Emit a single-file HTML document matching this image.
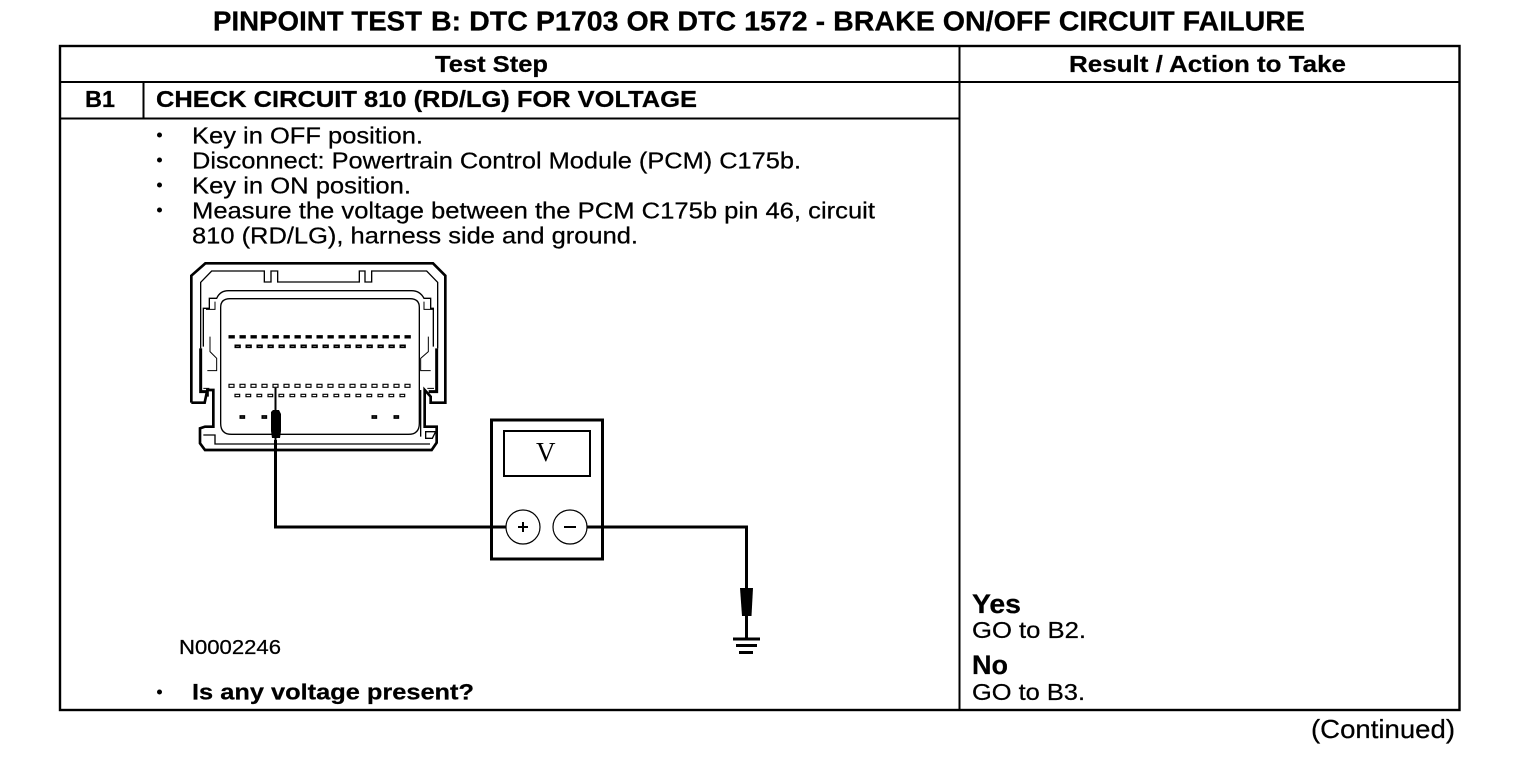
<!DOCTYPE html>
<html>
<head>
<meta charset="utf-8">
<style>
html,body{margin:0;padding:0;background:#fff;width:1520px;height:782px;overflow:hidden}
svg{display:block}
text{font-family:"Liberation Sans",Arial,sans-serif;fill:#000;stroke:#000;stroke-width:.25px}
.b{font-weight:bold}
</style>
</head>
<body>
<svg width="1520" height="782" viewBox="0 0 1520 782" xmlns="http://www.w3.org/2000/svg">
<rect width="1520" height="782" fill="#fff"/>
<text class="b" x="213" y="30.500" font-size="27.500" textLength="209" lengthAdjust="spacingAndGlyphs">PINPOINT TEST</text>
<text class="b" x="431" y="30.500" font-size="27.500" textLength="874" lengthAdjust="spacingAndGlyphs">B: DTC P1703 OR DTC 1572 - BRAKE ON/OFF CIRCUIT FAILURE</text>

<g stroke="#000" stroke-width="2" fill="none">
<rect x="60" y="46" width="1399.500" height="664" stroke-width="2.400"/>
<path d="M59 82H1460M59 118.500H959M143.500 82V118M959.500 46V710"/>
</g>

<text class="b" x="435" y="72" font-size="23.500" textLength="113" lengthAdjust="spacingAndGlyphs">Test Step</text>
<text class="b" x="1069" y="72" font-size="23.500" textLength="277" lengthAdjust="spacingAndGlyphs">Result / Action to Take</text>
<text class="b" x="85" y="107" font-size="23.500" textLength="30" lengthAdjust="spacingAndGlyphs">B1</text>
<text class="b" x="156" y="107" font-size="23.500" textLength="541" lengthAdjust="spacingAndGlyphs">CHECK CIRCUIT 810 (RD/LG) FOR VOLTAGE</text>

<g font-size="23.500">
<text x="192" y="143.500" textLength="231" lengthAdjust="spacingAndGlyphs">Key in OFF position.</text>
<text x="192" y="168.500" textLength="609" lengthAdjust="spacingAndGlyphs">Disconnect: Powertrain Control Module (PCM) C175b.</text>
<text x="192" y="193.500" textLength="219" lengthAdjust="spacingAndGlyphs">Key in ON position.</text>
<text x="192" y="218.500" textLength="683" lengthAdjust="spacingAndGlyphs">Measure the voltage between the PCM C175b pin 46, circuit</text>
<text x="192" y="243.500" textLength="446" lengthAdjust="spacingAndGlyphs">810 (RD/LG), harness side and ground.</text>
</g>
<g fill="#000">
<circle cx="159.500" cy="135" r="2.500"/>
<circle cx="159.500" cy="160" r="2.500"/>
<circle cx="159.500" cy="185" r="2.500"/>
<circle cx="159.500" cy="210" r="2.500"/>
<circle cx="159.500" cy="692" r="2.500"/>
</g>

<!-- connector -->
<g transform="translate(170 250) scale(0.33333)" fill="none" stroke="#000" stroke-linejoin="miter">
<path stroke-width="8" d="M64 458V77L106 40H789L826 77V458H782V440L764 420V530H800V578L785 600H105L90 580V535L105 530H130V420H112L104 458H64"/>
<path stroke-width="4" d="M92 295V97L125 63H283V96H303V63H323V96H568V63H585V96H605V63H770L803 97V295"/>
<path stroke-width="9" d="M92 295V425H112V440M800 295V425H776"/>
<path stroke-width="4" d="M100 290V175H118V145H140Q150 122 175 122H725Q750 122 762 145H782V175H790V290"/>
<path stroke-width="4" d="M152 172Q152 146 180 146H720Q748 146 748 172V520Q748 553 715 553H185Q152 553 152 520Z"/>
<path stroke-width="3" d="M108 178H135V155M792 178H762V155"/>
<path stroke-width="3" d="M120 260V305L140 325V362H112M775 260V305L752 325V362H782M100 415H118M792 415H772"/>
<path stroke-width="4" d="M100 555H135V582H780M767 545H797L787 565H767Z M752 420V560"/>
</g>
<!-- pins -->
<g transform="translate(170 250) scale(0.33333)" fill="none" stroke="#000" stroke-width="5">
<path d="M178 258h14v5h-14zM211 258h14v5h-14zM244 258h14v5h-14zM277 258h14v5h-14zM310 258h14v5h-14zM343 258h14v5h-14zM376 258h14v5h-14zM409 258h14v5h-14zM442 258h14v5h-14zM475 258h14v5h-14zM508 258h14v5h-14zM541 258h14v5h-14zM574 258h14v5h-14zM607 258h14v5h-14zM640 258h14v5h-14zM673 258h14v5h-14zM706 258h14v5h-14z"/>
<path d="M196 286h14v6h-14zM229 286h14v6h-14zM262 286h14v6h-14zM295 286h14v6h-14zM328 286h14v6h-14zM361 286h14v6h-14zM394 286h14v6h-14zM427 286h14v6h-14zM460 286h14v6h-14zM493 286h14v6h-14zM526 286h14v6h-14zM559 286h14v6h-14zM592 286h14v6h-14zM625 286h14v6h-14zM658 286h14v6h-14zM691 286h14v6h-14z"/>
<path d="M211 498h12v6h-12zM277 498h12v6h-12zM607 498h12v6h-12zM673 498h12v6h-12z"/>
</g>
<g transform="translate(170 250) scale(0.33333)" fill="none" stroke="#000" stroke-width="3.500">
<path d="M177 403h15v9h-15zM210 403h15v9h-15zM243 403h15v9h-15zM276 403h15v9h-15zM309 403h15v9h-15zM342 403h15v9h-15zM375 403h15v9h-15zM408 403h15v9h-15zM441 403h15v9h-15zM474 403h15v9h-15zM507 403h15v9h-15zM540 403h15v9h-15zM573 403h15v9h-15zM606 403h15v9h-15zM639 403h15v9h-15zM672 403h15v9h-15zM705 403h15v9h-15z"/>
<path d="M195 433h14v7h-14zM228 433h14v7h-14zM261 433h14v7h-14zM294 433h14v7h-14zM327 433h14v7h-14zM360 433h14v7h-14zM393 433h14v7h-14zM426 433h14v7h-14zM459 433h14v7h-14zM492 433h14v7h-14zM525 433h14v7h-14zM558 433h14v7h-14zM591 433h14v7h-14zM624 433h14v7h-14zM657 433h14v7h-14zM690 433h14v7h-14z"/>
</g>

<!-- probe and wires -->
<path d="M275.500 388V440" fill="none" stroke="#000" stroke-width="2"/>
<path d="M275.500 440V527H510" fill="none" stroke="#000" stroke-width="3"/>
<path d="M271 412L273 410H279L281 414V431L280 438H272L271 431Z" fill="#000"/>
<path d="M581 527H746.500V590" fill="none" stroke="#000" stroke-width="3"/>
<path d="M740 588H753L751.500 616H742Z" fill="#000"/>
<path d="M746.500 614V639" fill="none" stroke="#000" stroke-width="3"/>
<path d="M733 639H760M736 645.500H757M739 652.500H753" fill="none" stroke="#000" stroke-width="3"/>

<!-- meter -->
<rect x="491.500" y="420" width="111" height="139" fill="none" stroke="#000" stroke-width="3"/>
<rect x="504" y="431" width="86" height="45" fill="none" stroke="#000" stroke-width="2"/>
<text x="536" y="461" font-size="27" style="font-family:'Liberation Serif',serif;stroke-width:0">V</text>
<circle cx="523" cy="527" r="17" fill="#fff" stroke="#000" stroke-width="1.200"/>
<circle cx="570" cy="527" r="17" fill="#fff" stroke="#000" stroke-width="1.200"/>
<path d="M518 527H528M523 522V532M564 527H576" fill="none" stroke="#000" stroke-width="2"/>
<path d="M487 527H506M587 527H603" fill="none" stroke="#000" stroke-width="3"/>

<text x="179" y="654" font-size="20" textLength="102" lengthAdjust="spacingAndGlyphs">N0002246</text>
<text class="b" x="192" y="699.500" font-size="22" textLength="282" lengthAdjust="spacingAndGlyphs">Is any voltage present?</text>

<text class="b" x="972" y="613" font-size="27" textLength="49" lengthAdjust="spacingAndGlyphs">Yes</text>
<text x="972" y="638" font-size="23" textLength="114" lengthAdjust="spacingAndGlyphs">GO to B2.</text>
<text class="b" x="972" y="674" font-size="27" textLength="36" lengthAdjust="spacingAndGlyphs">No</text>
<text x="972" y="700" font-size="23" textLength="113" lengthAdjust="spacingAndGlyphs">GO to B3.</text>
<text x="1311" y="738" font-size="26" textLength="144" lengthAdjust="spacingAndGlyphs">(Continued)</text>
</svg>
</body>
</html>
